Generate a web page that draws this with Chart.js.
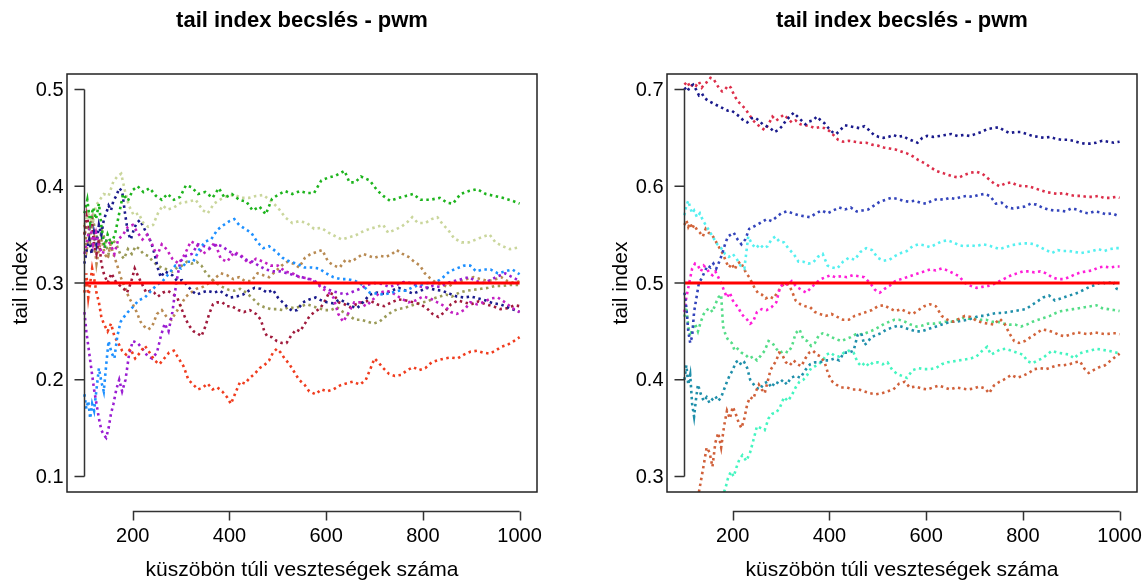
<!DOCTYPE html>
<html>
<head>
<meta charset="utf-8">
<title>tail index becslés - pwm</title>
<script src="https://cdn.jsdelivr.net/npm/chart.js@4.4.1/dist/chart.umd.min.js"></script>
<style>
  body { margin: 0; background: #fff; }
  .panels { display: flex; width: 1146px; height: 581px; }
  canvas { display: block; }
</style>
</head>
<body>
<div class="panels">
  <canvas id="pwmLeft" width="573" height="581"></canvas>
  <canvas id="pwmRight" width="573" height="581"></canvas>
</div>
<script>
// axis ticks
const xTicks = [200, 400, 600, 800, 1000];
const yTicksLeft = [0.1, 0.2, 0.3, 0.4, 0.5];
const yTicksRight = [0.3, 0.4, 0.5, 0.6, 0.7];

// true tail index for each panel
const trueLeft = 0.3;
const trueRight = 0.5;

// left panel: [number of exceedances, estimate]
const leftGreen = [[100,.372],[106,.386],[112,.362],[118,.378],[124,.366],[130,.382],[136,.355],[142,.336],[148,.35],[156,.34],[164,.352],[172,.372],[180,.392],[190,.385],[200,.396],[210,.40],[222,.394],[235,.398],[248,.39],[260,.386],[272,.392],[285,.386],[298,.389],[310,.401],[322,.399],[335,.392],[350,.394],[365,.388],[378,.398],[390,.388],[405,.392],[420,.386],[435,.384],[448,.375],[462,.379],[475,.371],[488,.387],[500,.391],[515,.395],[530,.392],[546,.395],[560,.393],[575,.393],[590,.406],[605,.409],[620,.411],[638,.416],[648,.404],[660,.404],[672,.41],[690,.406],[705,.396],[718,.39],[732,.385],[750,.388],[765,.39],[780,.392],[795,.386],[815,.386],[835,.388],[850,.383],[862,.382],[878,.392],[895,.395],[912,.397],[930,.392],[948,.39],[965,.388],[985,.385],[1000,.382]];
const leftKhaki = [[100,.36],[108,.372],[116,.362],[124,.38],[132,.386],[140,.392],[150,.39],[160,.405],[168,.41],[176,.413],[184,.395],[192,.38],[202,.37],[212,.372],[222,.362],[232,.358],[242,.36],[252,.372],[262,.38],[272,.376],[285,.378],[300,.383],[315,.384],[330,.386],[345,.375],[355,.372],[368,.382],[380,.386],[395,.39],[410,.391],[425,.388],[440,.388],[455,.39],[470,.391],[485,.385],[500,.378],[515,.368],[530,.362],[545,.364],[560,.362],[575,.356],[590,.357],[605,.352],[620,.348],[632,.345],[645,.347],[660,.349],[675,.353],[690,.356],[705,.358],[718,.36],[728,.352],[742,.355],[755,.358],[768,.363],[778,.368],[790,.362],[805,.362],[818,.366],[830,.368],[842,.36],[852,.355],[865,.346],[880,.342],[895,.342],[910,.345],[925,.348],[938,.35],[950,.342],[965,.338],[980,.335],[1000,.337]];
const leftSky = [[100,.185],[104,.17],[108,.178],[112,.16],[116,.175],[120,.168],[125,.19],[130,.212],[135,.198],[140,.188],[145,.215],[150,.24],[156,.228],[162,.222],[168,.245],[175,.26],[182,.265],[190,.27],[200,.275],[212,.282],[225,.285],[238,.292],[250,.298],[262,.302],[275,.31],[288,.318],[300,.315],[312,.322],[325,.322],[338,.335],[350,.343],[362,.345],[375,.355],[388,.36],[400,.364],[410,.366],[420,.36],[432,.356],[445,.352],[458,.342],[470,.336],[482,.338],[495,.333],[510,.326],[525,.322],[540,.32],[555,.316],[570,.316],[585,.315],[600,.31],[615,.306],[630,.304],[645,.304],[660,.302],[675,.298],[690,.29],[705,.289],[720,.288],[735,.29],[750,.292],[765,.292],[780,.296],[795,.298],[810,.3],[825,.3],[840,.305],[855,.312],[870,.315],[885,.318],[898,.318],[910,.312],[925,.314],[940,.314],[955,.31],[970,.312],[985,.314],[1000,.309]];
const leftOrange = [[100,.29],[104,.31],[108,.285],[112,.3],[116,.315],[120,.305],[125,.29],[130,.28],[135,.265],[140,.258],[148,.25],[155,.258],[162,.245],[170,.238],[178,.23],[186,.226],[195,.232],[205,.222],[215,.228],[225,.235],[235,.228],[245,.22],[255,.216],[265,.222],[275,.228],[285,.23],[295,.222],[305,.214],[315,.2],[325,.195],[335,.19],[345,.192],[355,.196],[365,.19],[375,.192],[385,.188],[395,.182],[403,.175],[412,.186],[422,.198],[432,.196],[442,.202],[452,.206],[462,.212],[472,.215],[482,.22],[490,.228],[498,.232],[506,.228],[514,.222],[524,.216],[534,.208],[544,.2],[555,.195],[565,.188],[578,.185],[590,.19],[602,.188],[615,.19],[628,.194],[640,.196],[655,.198],[670,.195],[682,.2],[692,.212],[700,.222],[708,.218],[718,.212],[730,.206],[742,.204],[755,.205],[768,.21],[780,.213],[792,.21],[805,.212],[818,.218],[830,.22],[845,.222],[858,.223],[872,.222],[885,.226],[898,.229],[912,.23],[925,.228],[938,.227],[950,.23],[962,.234],[975,.236],[988,.24],[1000,.244]];
const leftViolet = [[100,.27],[104,.25],[108,.235],[112,.22],[116,.205],[120,.19],[125,.175],[130,.16],[135,.148],[140,.143],[145,.14],[150,.15],[155,.165],[160,.175],[166,.19],[172,.2],[178,.188],[185,.2],[192,.225],[200,.24],[210,.238],[220,.232],[230,.225],[240,.222],[250,.228],[258,.245],[266,.258],[274,.25],[282,.27],[290,.3],[298,.322],[310,.328],[322,.33],[335,.34],[348,.338],[360,.336],[372,.34],[385,.338],[398,.333],[410,.33],[422,.328],[435,.324],[448,.322],[460,.318],[475,.314],[490,.312],[505,.312],[520,.31],[535,.308],[550,.306],[565,.304],[580,.3],[595,.296],[610,.292],[625,.29],[640,.288],[655,.291],[670,.294],[685,.298],[700,.3],[715,.299],[730,.296],[745,.298],[760,.301],[775,.3],[790,.297],[805,.295],[820,.297],[835,.296],[850,.3],[865,.302],[880,.304],[895,.306],[910,.302],[925,.3],[940,.303],[955,.307],[970,.31],[985,.306],[1000,.302]];
const leftMagenta = [[100,.33],[106,.345],[112,.36],[118,.34],[124,.352],[130,.338],[138,.33],[146,.345],[154,.34],[162,.33],[170,.345],[180,.35],[190,.358],[200,.36],[210,.352],[220,.345],[230,.35],[240,.34],[250,.328],[260,.34],[270,.335],[282,.325],[295,.32],[308,.33],[320,.343],[332,.34],[345,.33],[358,.335],[370,.342],[382,.325],[395,.322],[410,.332],[425,.328],[440,.32],[455,.325],[470,.322],[485,.318],[500,.318],[515,.312],[530,.31],[545,.306],[560,.305],[575,.303],[590,.295],[605,.29],[615,.285],[625,.268],[635,.26],[645,.268],[658,.28],[670,.28],[682,.276],[695,.282],[710,.29],[725,.292],[740,.289],[755,.284],[770,.28],[785,.282],[800,.286],[815,.284],[830,.28],[845,.276],[858,.27],[870,.268],[885,.272],[898,.28],[912,.278],[925,.28],[940,.284],[955,.285],[970,.28],[985,.274],[1000,.27]];
const leftNavy = [[100,.32],[105,.335],[110,.345],[115,.33],[120,.352],[125,.34],[130,.36],[135,.35],[140,.365],[145,.372],[150,.38],[155,.375],[160,.385],[166,.39],[172,.398],[178,.395],[184,.372],[190,.352],[196,.345],[202,.355],[208,.362],[215,.365],[222,.358],[230,.35],[238,.342],[245,.33],[252,.315],[258,.306],[266,.312],[274,.31],[282,.308],[292,.302],[302,.303],[312,.298],[322,.292],[332,.288],[342,.29],[355,.292],[368,.29],[380,.292],[392,.288],[402,.285],[415,.286],[428,.288],[440,.292],[452,.295],[465,.294],[478,.29],[490,.293],[500,.285],[510,.28],[520,.275],[530,.271],[540,.272],[552,.28],[565,.283],[578,.285],[590,.282],[602,.28],[615,.279],[628,.283],[640,.28],[652,.276],[664,.274],[676,.28],[690,.288],[705,.29],[720,.289],[735,.292],[750,.295],[765,.292],[780,.289],[795,.292],[810,.295],[825,.293],[840,.292],[855,.289],[870,.286],[885,.285],[900,.286],[915,.284],[930,.282],[945,.279],[960,.278],[975,.275],[990,.272],[1000,.27]];
const leftWine = [[100,.35],[105,.37],[110,.355],[115,.365],[120,.34],[125,.33],[130,.345],[135,.32],[140,.31],[148,.3],[156,.31],[164,.302],[172,.298],[180,.295],[188,.29],[196,.3],[204,.315],[212,.306],[220,.298],[228,.29],[236,.292],[244,.29],[252,.286],[262,.29],[272,.292],[282,.289],[292,.285],[302,.272],[310,.262],[318,.255],[326,.25],[334,.248],[342,.245],[350,.255],[358,.268],[366,.278],[375,.28],[385,.28],[395,.276],[405,.276],[418,.272],[430,.27],[442,.272],[455,.268],[465,.262],[472,.25],[478,.245],[488,.244],[498,.24],[508,.238],[518,.238],[528,.246],[538,.252],[546,.25],[556,.258],[566,.266],[576,.27],[588,.274],[598,.282],[606,.29],[616,.288],[626,.28],[638,.278],[650,.275],[662,.278],[675,.28],[690,.282],[705,.278],[720,.276],[735,.28],[750,.283],[765,.282],[780,.28],[795,.278],[808,.274],[820,.268],[832,.265],[845,.27],[858,.278],[872,.282],[886,.28],[900,.278],[915,.281],[930,.278],[945,.276],[960,.273],[975,.274],[990,.277],[1000,.276]];
const leftTan = [[100,.36],[105,.335],[110,.35],[115,.33],[120,.345],[125,.32],[130,.335],[136,.345],[142,.33],[148,.325],[154,.34],[160,.33],[168,.318],[176,.305],[184,.295],[192,.285],[200,.278],[208,.27],[216,.26],[224,.255],[232,.252],[240,.255],[250,.268],[260,.272],[270,.265],[280,.262],[290,.27],[300,.278],[310,.286],[320,.29],[332,.294],[345,.296],[358,.3],[370,.305],[382,.31],[395,.308],[408,.304],[420,.306],[432,.302],[445,.302],[458,.31],[470,.308],[482,.306],[495,.312],[508,.318],[520,.322],[532,.32],[544,.316],[556,.326],[568,.33],[580,.332],[592,.334],[604,.322],[616,.318],[628,.316],[640,.324],[652,.322],[664,.326],[676,.33],[688,.328],[700,.326],[712,.328],[724,.327],[736,.33],[746,.334],[758,.33],[770,.327],[782,.322],[794,.318],[804,.31],[815,.305],[828,.3],[840,.298],[852,.296],[865,.3],[878,.302],[890,.304],[905,.306],[920,.304],[935,.302],[950,.304],[962,.306],[975,.302],[988,.3],[1000,.302]];
const leftOlive = [[100,.35],[106,.36],[112,.345],[118,.365],[124,.35],[130,.34],[136,.355],[142,.345],[150,.33],[158,.345],[166,.34],[174,.33],[182,.325],[190,.335],[198,.33],[206,.338],[214,.335],[222,.33],[232,.328],[242,.322],[252,.318],[262,.315],[272,.314],[282,.312],[292,.316],[302,.318],[312,.322],[322,.32],[332,.322],[342,.318],[352,.31],[362,.305],[372,.3],[385,.296],[398,.293],[410,.292],[422,.294],[435,.29],[448,.284],[460,.278],[472,.275],[485,.273],[498,.273],[510,.272],[522,.275],[535,.274],[548,.276],[560,.278],[572,.276],[585,.274],[598,.272],[610,.272],[622,.275],[635,.27],[648,.266],[660,.262],[672,.262],[685,.26],[698,.258],[710,.26],[722,.265],[735,.27],[748,.273],[760,.274],[772,.276],[785,.278],[798,.28],[810,.281],[822,.284],[835,.286],[848,.288],[860,.286],[875,.29],[890,.292],[905,.293],[920,.294],[935,.295],[950,.297],[965,.297],[980,.298],[1000,.298]];

// right panel
const rightNavy = [[100,.702],[106,.698],[112,.703],[118,.705],[124,.7],[130,.694],[136,.696],[142,.691],[150,.688],[158,.686],[166,.684],[174,.682],[182,.68],[190,.678],[198,.678],[206,.675],[214,.672],[222,.668],[230,.666],[238,.67],[246,.671],[254,.668],[262,.664],[270,.662],[278,.66],[286,.656],[294,.658],[302,.662],[310,.668],[318,.672],[326,.676],[334,.672],[342,.668],[350,.664],[358,.667],[366,.668],[374,.672],[382,.668],[390,.665],[398,.66],[406,.656],[414,.654],[422,.658],[432,.663],[442,.662],[452,.661],[462,.66],[472,.662],[482,.658],[492,.653],[502,.651],[512,.65],[522,.651],[532,.653],[542,.651],[552,.652],[562,.649],[572,.647],[582,.645],[592,.65],[602,.652],[615,.651],[628,.652],[640,.653],[652,.654],[665,.652],[678,.653],[690,.652],[702,.654],[714,.656],[726,.659],[738,.66],[750,.661],[760,.658],[772,.655],[784,.656],[796,.656],[808,.654],[820,.652],[832,.651],[844,.65],[856,.651],[868,.649],[880,.648],[892,.648],[904,.647],[916,.645],[928,.644],[940,.644],[952,.645],[964,.647],[976,.646],[988,.645],[1000,.646]];
const rightCrimson = [[100,.705],[106,.708],[112,.702],[118,.706],[124,.704],[130,.708],[136,.702],[142,.706],[148,.708],[154,.712],[160,.711],[166,.706],[172,.701],[178,.698],[184,.7],[190,.704],[196,.702],[202,.695],[210,.688],[218,.684],[226,.68],[234,.674],[242,.668],[250,.664],[258,.661],[266,.658],[274,.664],[282,.672],[290,.668],[298,.671],[306,.674],[314,.67],[322,.666],[330,.668],[340,.664],[350,.663],[360,.662],[370,.66],[380,.661],[390,.66],[400,.657],[410,.652],[418,.648],[428,.646],[440,.647],[452,.646],[464,.645],[476,.645],[488,.643],[500,.642],[512,.64],[524,.639],[536,.638],[548,.636],[560,.634],[572,.631],[584,.627],[596,.624],[608,.62],[620,.616],[632,.614],[644,.612],[656,.61],[668,.609],[680,.612],[692,.614],[704,.615],[716,.613],[728,.608],[740,.603],[752,.6],[764,.603],[776,.604],[788,.601],[800,.6],[812,.6],[824,.598],[836,.596],[848,.594],[860,.593],[872,.592],[884,.593],[896,.591],[908,.59],[920,.59],[932,.589],[944,.589],[956,.59],[968,.588],[980,.588],[992,.589],[1000,.588]];
const rightRoyal = [[100,.49],[104,.475],[108,.45],[112,.438],[116,.445],[120,.47],[125,.485],[130,.5],[136,.505],[142,.512],[148,.518],[154,.516],[160,.52],[166,.515],[172,.522],[178,.53],[184,.54],[190,.548],[196,.55],[202,.552],[210,.545],[218,.54],[226,.545],[234,.556],[242,.558],[250,.56],[260,.563],[270,.566],[280,.564],[290,.568],[300,.572],[312,.574],[324,.572],[336,.57],[348,.569],[360,.568],[372,.572],[384,.575],[396,.572],[408,.575],[420,.578],[432,.576],[444,.578],[456,.574],[468,.575],[480,.576],[492,.58],[504,.584],[516,.586],[528,.588],[540,.587],[552,.585],[564,.584],[576,.585],[588,.583],[600,.582],[612,.585],[624,.587],[636,.586],[648,.588],[660,.587],[672,.589],[684,.59],[696,.589],[708,.591],[720,.592],[732,.59],[744,.582],[756,.583],[768,.578],[780,.577],[792,.578],[804,.579],[816,.582],[828,.581],[840,.578],[852,.576],[864,.575],[876,.575],[888,.574],[900,.577],[912,.576],[924,.573],[936,.572],[948,.574],[960,.573],[972,.571],[984,.572],[994,.57],[1000,.571]];
const rightCyan = [[100,.57],[104,.58],[108,.585],[112,.578],[116,.572],[120,.575],[126,.568],[132,.572],[138,.565],[144,.56],[150,.555],[156,.55],[162,.545],[168,.54],[176,.536],[184,.53],[192,.527],[200,.53],[208,.525],[216,.518],[224,.515],[232,.548],[240,.54],[248,.536],[256,.54],[264,.536],[272,.538],[280,.545],[288,.548],[296,.543],[306,.542],[316,.535],[326,.53],[336,.522],[346,.522],[356,.52],[366,.521],[376,.527],[386,.53],[396,.518],[406,.516],[416,.515],[428,.522],[440,.526],[452,.524],[464,.532],[476,.536],[488,.534],[500,.526],[512,.523],[524,.524],[536,.528],[548,.531],[560,.533],[572,.538],[584,.54],[596,.539],[608,.537],[620,.54],[632,.543],[644,.544],[656,.542],[668,.539],[680,.538],[692,.539],[704,.538],[716,.54],[728,.539],[740,.537],[752,.535],[764,.537],[776,.539],[788,.54],[800,.541],[812,.541],[824,.54],[836,.537],[848,.534],[860,.531],[872,.534],[884,.533],[896,.533],[908,.532],[920,.531],[932,.532],[944,.533],[956,.535],[968,.533],[980,.535],[992,.536],[1000,.536]];
const rightPink = [[100,.47],[104,.485],[108,.495],[112,.505],[116,.515],[122,.52],[128,.518],[134,.512],[140,.518],[146,.515],[152,.51],[158,.508],[164,.512],[170,.506],[176,.5],[182,.492],[188,.485],[194,.49],[200,.482],[206,.478],[212,.474],[218,.468],[224,.465],[230,.462],[236,.458],[242,.46],[250,.47],[260,.473],[270,.472],[280,.475],[290,.48],[298,.496],[306,.5],[314,.498],[322,.502],[332,.496],[342,.493],[352,.49],[362,.495],[372,.5],[382,.504],[392,.506],[402,.508],[412,.506],[424,.507],[436,.506],[448,.508],[460,.507],[472,.506],[484,.5],[494,.493],[504,.49],[514,.494],[524,.497],[536,.502],[548,.504],[560,.506],[572,.508],[584,.51],[596,.512],[608,.514],[620,.513],[632,.515],[644,.513],[656,.51],[668,.507],[680,.5],[692,.497],[704,.495],[716,.496],[728,.497],[740,.499],[752,.502],[764,.505],[776,.508],[788,.51],[800,.512],[812,.512],[824,.511],[836,.512],[848,.51],[860,.506],[872,.504],[884,.504],[896,.506],[908,.509],[920,.511],[932,.512],[944,.513],[956,.516],[968,.517],[980,.516],[992,.517],[1000,.517]];
const rightRust = [[100,.56],[104,.565],[108,.558],[112,.562],[116,.556],[120,.56],[126,.555],[132,.552],[138,.548],[144,.556],[150,.552],[156,.55],[162,.546],[168,.54],[174,.535],[180,.53],[186,.522],[192,.516],[198,.52],[204,.514],[210,.52],[216,.522],[222,.516],[228,.51],[234,.506],[240,.5],[246,.494],[252,.49],[260,.488],[268,.484],[276,.486],[284,.484],[292,.49],[300,.496],[308,.5],[316,.498],[322,.492],[330,.482],[340,.478],[350,.476],[360,.475],[370,.47],[380,.468],[392,.466],[404,.468],[416,.465],[428,.462],[440,.462],[452,.466],[464,.468],[476,.47],[488,.472],[500,.476],[512,.477],[524,.474],[536,.471],[548,.473],[560,.47],[572,.468],[584,.472],[596,.476],[608,.478],[620,.476],[632,.466],[644,.462],[656,.46],[668,.463],[680,.466],[692,.465],[704,.461],[716,.459],[728,.458],[740,.457],[752,.463],[762,.458],[772,.448],[782,.44],[792,.438],[804,.44],[816,.444],[828,.448],[840,.452],[852,.451],[864,.449],[876,.446],[888,.445],[900,.447],[912,.449],[924,.448],[936,.447],[948,.449],[960,.448],[972,.447],[984,.448],[994,.448],[1000,.447]];
const rightSienna = [[130,.284],[134,.295],[140,.312],[146,.33],[152,.325],[158,.31],[164,.335],[170,.345],[176,.33],[182,.352],[188,.368],[194,.36],[200,.372],[206,.365],[212,.356],[218,.35],[224,.36],[230,.375],[236,.382],[242,.38],[248,.388],[254,.395],[260,.39],[266,.386],[272,.398],[278,.41],[284,.415],[290,.42],[296,.428],[302,.426],[310,.418],[318,.415],[326,.42],[334,.416],[342,.414],[350,.422],[358,.428],[366,.43],[374,.426],[382,.424],[390,.418],[398,.405],[406,.398],[414,.395],[424,.392],[436,.392],[448,.39],[460,.39],[472,.388],[484,.386],[496,.385],[508,.386],[520,.388],[532,.39],[544,.396],[556,.398],[566,.392],[578,.393],[590,.391],[602,.39],[614,.392],[626,.394],[638,.392],[650,.39],[662,.392],[674,.391],[686,.39],[698,.391],[710,.393],[722,.391],[730,.386],[740,.394],[752,.398],[764,.401],[776,.405],[788,.402],[800,.404],[812,.407],[824,.411],[836,.412],[848,.411],[860,.413],[872,.415],[884,.415],[896,.416],[908,.418],[918,.419],[928,.411],[936,.407],[946,.41],[958,.413],[970,.415],[982,.42],[992,.424],[1000,.427]];
const rightTeal = [[100,.4],[104,.415],[108,.395],[112,.405],[116,.375],[120,.362],[124,.38],[128,.395],[134,.385],[140,.378],[146,.382],[152,.376],[158,.38],[164,.383],[170,.378],[176,.382],[182,.39],[188,.398],[194,.405],[200,.41],[206,.418],[212,.42],[218,.415],[224,.418],[230,.412],[236,.4],[242,.396],[248,.392],[256,.39],[264,.396],[272,.398],[280,.392],[288,.398],[296,.396],[304,.4],[312,.395],[320,.402],[330,.404],[340,.402],[350,.41],[360,.416],[370,.418],[380,.418],[390,.42],[400,.42],[410,.422],[420,.42],[430,.428],[440,.428],[450,.43],[458,.446],[466,.448],[472,.436],[478,.438],[486,.444],[496,.446],[506,.448],[518,.452],[530,.454],[542,.456],[554,.454],[566,.452],[578,.45],[590,.45],[602,.452],[614,.454],[626,.456],[638,.458],[650,.46],[662,.46],[674,.461],[686,.462],[698,.464],[710,.466],[722,.466],[734,.468],[746,.469],[758,.469],[770,.47],[782,.471],[794,.472],[806,.473],[818,.477],[830,.481],[842,.485],[854,.487],[866,.482],[878,.484],[890,.486],[902,.488],[914,.49],[926,.493],[938,.496],[950,.498],[962,.501],[974,.499],[986,.502],[994,.494],[1000,.493]];
const rightMint = [[100,.465],[104,.475],[108,.455],[112,.445],[116,.452],[122,.458],[128,.45],[134,.46],[140,.468],[146,.472],[152,.474],[158,.47],[164,.478],[170,.485],[176,.488],[180,.455],[186,.445],[192,.44],[198,.438],[204,.43],[210,.432],[218,.428],[226,.426],[234,.422],[242,.424],[250,.42],[258,.425],[266,.43],[274,.44],[282,.438],[290,.432],[298,.428],[306,.43],[314,.428],[322,.434],[330,.448],[338,.452],[346,.442],[354,.44],[362,.435],[370,.438],[378,.446],[386,.448],[394,.447],[404,.444],[414,.442],[424,.44],[434,.442],[444,.444],[454,.447],[464,.447],[474,.448],[484,.45],[494,.452],[504,.455],[514,.458],[524,.46],[534,.462],[544,.462],[556,.46],[568,.457],[580,.455],[592,.456],[604,.458],[616,.458],[628,.459],[640,.46],[652,.46],[664,.462],[676,.464],[688,.463],[700,.463],[712,.462],[724,.462],[736,.46],[748,.46],[760,.458],[772,.457],[784,.457],[796,.455],[808,.457],[820,.46],[832,.462],[844,.464],[856,.466],[868,.469],[880,.471],[892,.472],[904,.473],[916,.474],[928,.475],[940,.476],[952,.477],[964,.474],[976,.473],[988,.472],[1000,.471]];
const rightAqua = [[182,.284],[186,.29],[190,.298],[196,.305],[202,.3],[208,.31],[214,.318],[220,.322],[228,.316],[236,.325],[244,.34],[250,.352],[258,.35],[266,.348],[274,.36],[282,.365],[290,.366],[298,.372],[306,.382],[314,.378],[322,.384],[330,.392],[338,.398],[346,.4],[354,.405],[362,.412],[370,.414],[378,.416],[386,.42],[394,.426],[402,.428],[410,.425],[420,.424],[430,.428],[440,.43],[450,.428],[458,.418],[466,.414],[474,.418],[482,.414],[490,.418],[500,.418],[510,.416],[520,.418],[530,.41],[540,.406],[550,.404],[560,.402],[572,.41],[584,.412],[596,.411],[608,.411],[620,.412],[632,.416],[644,.418],[656,.419],[668,.42],[680,.421],[692,.422],[704,.424],[716,.43],[726,.434],[734,.426],[742,.428],[752,.431],[764,.432],[776,.43],[788,.428],[800,.426],[810,.419],[820,.417],[830,.42],[840,.422],[850,.426],[860,.43],[872,.428],[884,.427],[896,.426],[906,.422],[916,.427],[928,.429],[940,.43],[952,.432],[964,.431],[976,.43],[988,.429],[1000,.427]];

const leftSeries = [
  [leftGreen, '#1db41d'], [leftKhaki, '#cad69c'], [leftSky, '#1e90ff'],
  [leftOrange, '#f03c1e'], [leftViolet, '#9a1dd2'], [leftMagenta, '#c21fc2'],
  [leftNavy, '#1b1b8c'], [leftWine, '#a01a3c'], [leftTan, '#b88a52'],
  [leftOlive, '#9a9a58'],
];
const rightSeries = [
  [rightNavy, '#1a1a8c'], [rightCrimson, '#dc2e4a'], [rightRoyal, '#3344bb'],
  [rightCyan, '#55f0f0'], [rightPink, '#ff1fd8'], [rightRust, '#d2643a'],
  [rightSienna, '#d0603a'], [rightTeal, '#1f8faa'], [rightMint, '#55dd88'],
  [rightAqua, '#44f5c0'],
];

const FONT = '"Liberation Sans", Arial, Helvetica, sans-serif';

// R-style frame: box around the plot region, detached axes, titles
const rFrame = {
  id: 'rFrame',
  afterDraw(chart, args, o) {
    const {ctx, chartArea: a, scales: {x, y}} = chart;
    const cx = (a.left + a.right) / 2;
    ctx.save();
    ctx.strokeStyle = '#222';
    ctx.lineWidth = 1.5;
    ctx.strokeRect(a.left, a.top, a.right - a.left, a.bottom - a.top);

    ctx.strokeStyle = '#333';
    ctx.lineWidth = 1.5;
    ctx.fillStyle = '#000';

    // y axis at the first x value
    const ax = Math.round(x.getPixelForValue(100)) + 0.5;
    const yt = o.yTicks;
    ctx.beginPath();
    ctx.moveTo(ax, y.getPixelForValue(yt[0]));
    ctx.lineTo(ax, y.getPixelForValue(yt[yt.length - 1]));
    yt.forEach((t) => {
      const py = y.getPixelForValue(t);
      ctx.moveTo(ax - 10, py);
      ctx.lineTo(ax, py);
    });
    ctx.stroke();
    ctx.font = '20px ' + FONT;
    ctx.textAlign = 'right';
    ctx.textBaseline = 'middle';
    yt.forEach((t) => ctx.fillText(t.toFixed(1), ax - 21, y.getPixelForValue(t) + 1));

    // x axis below the box
    const by = a.bottom + 19.5;
    ctx.beginPath();
    ctx.moveTo(x.getPixelForValue(xTicks[0]), by);
    ctx.lineTo(x.getPixelForValue(xTicks[xTicks.length - 1]), by);
    xTicks.forEach((t) => {
      const px = Math.round(x.getPixelForValue(t)) + 0.5;
      ctx.moveTo(px, by);
      ctx.lineTo(px, by + 9);
    });
    ctx.stroke();
    ctx.textAlign = 'center';
    xTicks.forEach((t) => ctx.fillText(String(t), x.getPixelForValue(t), by + 25));

    // axis titles
    ctx.font = '21px ' + FONT;
    ctx.fillText('küszöbön túli veszteségek száma', cx, 570);
    ctx.save();
    ctx.translate(a.left - 46, (a.top + a.bottom) / 2);
    ctx.rotate(-Math.PI / 2);
    ctx.fillText('tail index', 0, 0);
    ctx.restore();

    ctx.font = 'bold 22px ' + FONT;
    ctx.fillText('tail index becslés - pwm', cx, 21);
    ctx.restore();
  },
};

function buildDatasets(series, trueValue) {
  const sets = [{
    data: [{x: 100, y: trueValue}, {x: 1000, y: trueValue}],
    borderColor: '#ff0000',
    borderWidth: 3,
    order: -1,
  }];
  series.forEach(([points, color]) => {
    sets.push({
      data: points.map(([n, v]) => ({x: n, y: v})),
      borderColor: color,
      borderWidth: 2.6,
      borderDash: [2.5, 3.5],
    });
  });
  return sets;
}

function drawPanel(id, series, trueValue, yMin, yMax, yTicks, padLeft) {
  new Chart(document.getElementById(id), {
    type: 'line',
    data: {datasets: buildDatasets(series, trueValue)},
    options: {
      responsive: false,
      animation: false,
      devicePixelRatio: 1,
      layout: {padding: {left: padLeft, right: 573 - padLeft - 470, top: 74, bottom: 89}},
      elements: {point: {radius: 0}, line: {tension: 0, fill: false}},
      plugins: {
        legend: {display: false},
        tooltip: {enabled: false},
        rFrame: {yTicks: yTicks},
      },
      scales: {
        x: {type: 'linear', min: 64, max: 1036, display: false},
        y: {type: 'linear', min: yMin, max: yMax, display: false},
      },
    },
    plugins: [rFrame],
  });
}

drawPanel('pwmLeft', leftSeries, trueLeft, 0.084, 0.516, yTicksLeft, 67);
drawPanel('pwmRight', rightSeries, trueRight, 0.284, 0.716, yTicksRight, 94);
</script>
</body>
</html>
